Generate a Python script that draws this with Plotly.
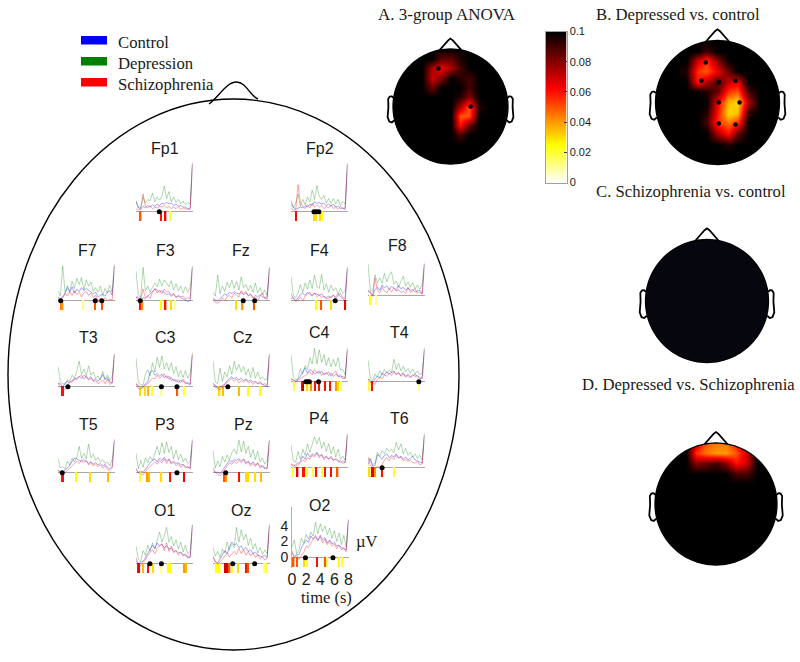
import math
import plotly.graph_objects as go

# ---------- data ----------
time_s = [0, .33, .67, 1, 1.33, 1.67, 2, 2.33, 2.67, 3, 3.33, 3.67, 4, 4.33, 4.67, 5, 5.33, 5.67, 6, 6.33, 6.67, 7, 7.33, 7.67, 8]
groups = ["Control", "Depression", "Schizophrenia"]

Fp1_c = [1.3,.4,.2,.6,.4,.7,.5,.8,.6,.9,.7,1.0,.9,1.1,.9,1.0,.7,.9,.6,.7,.5,.5,.3,.2,6.0]
Fp1_d = [1.2,.5,.4,1.8,1.0,1.5,1.3,2.3,1.2,1.8,1.4,1.9,3.2,1.6,2.5,1.2,1.8,1.1,1.5,.9,1.3,.8,1.1,.9,6.2]
Fp1_s = [.3,.1,.3,2.2,.6,.4,.7,.3,.5,.4,.6,.5,.7,.4,.6,.3,.5,.3,.6,.2,.4,.3,.2,.4,6.2]
Fp2_c = [1.3,.5,.2,.3,.5,.4,.7,.5,.9,.7,1.2,1.0,1.1,.9,1.0,.7,.9,.6,.9,.5,.6,.3,.4,.2,6.0]
Fp2_d = [.9,.4,1.0,2.2,.6,1.5,.8,1.8,1.2,2.7,1.5,3.3,1.9,1.5,2.0,1.0,1.6,1.0,1.6,.9,1.5,.7,1.2,.9,6.2]
Fp2_s = [.4,.1,.2,3.4,1.0,.6,.3,.8,.4,1.0,.5,.8,.5,.7,.3,.6,.4,.8,.3,.5,.2,.6,.3,.4,6.1]
F7_c = [.3,.2,.4,.8,1.8,1.0,1.7,.9,1.4,1.1,1.6,1.2,1.5,1.3,1.1,.8,1.0,.4,.6,.7,.5,1.0,1.2,.6,4.4]
F7_d = [1.2,.5,4.4,1.0,1.5,1.2,2.4,1.5,2.8,2.0,2.9,1.3,2.6,1.8,2.3,1.1,1.6,1.0,1.8,.6,1.5,.9,1.9,1.0,4.6]
F7_s = [.2,-.1,.3,.9,.5,1.1,.6,1.2,.7,1.0,.4,.9,1.1,.6,.9,.3,.6,-.3,.2,-.4,.3,-.1,.1,.0,4.5]
F3_c = [.3,.4,-.2,.3,.2,.5,.9,1.2,1.4,1.3,1.0,1.2,.9,.7,.8,.5,.7,.4,.5,.3,.1,-.1,-.2,-.1,4.2]
F3_d = [3.7,.7,.3,4.2,1.2,1.8,1.0,1.6,2.2,1.7,2.7,1.8,2.6,2.2,1.7,2.5,1.3,2.1,1.2,1.8,.9,1.7,1.0,1.6,4.4]
F3_s = [.5,-.2,.2,1.4,.3,.5,.2,1.0,1.5,.9,1.3,.8,1.4,1.0,1.1,.6,.9,.3,.6,.4,.5,.1,.3,.2,4.3]
Fz_c = [.3,.0,-.1,.2,.5,.8,.6,1.0,.8,1.1,.9,.8,1.0,.7,.9,.6,.7,.3,.6,.4,.7,.4,.3,.1,4.1]
Fz_d = [1.0,.5,3.2,.8,1.8,1.1,2.3,1.6,2.6,1.5,2.4,1.3,3.0,1.6,2.0,1.2,1.9,1.0,2.2,.9,1.6,.7,1.3,.6,4.3]
Fz_s = [.2,-.3,-.4,-.2,.3,-.1,.4,.6,.3,.9,.6,.4,1.2,.8,1.1,.5,.8,.2,.4,-.1,.5,.9,.2,.4,4.2]
F4_c = [.2,.3,-.1,.3,.7,.9,.6,1.0,.7,.5,.9,.7,.6,.8,.4,.3,.5,.3,.6,.4,.8,.4,.1,-.1,4.1]
F4_d = [3.0,.6,.3,.9,2.0,1.0,2.2,1.4,2.6,1.5,3.2,1.7,1.5,3.3,1.3,2.1,1.0,1.9,1.2,1.6,.8,1.5,.9,1.2,4.3]
F4_s = [.9,.2,-.2,.0,.4,-.1,.5,.7,1.0,.6,.9,.4,.7,.3,.5,.1,.3,.4,.6,.2,.6,.9,.3,.2,4.2]
F8_c = [.5,.3,.0,.7,1.0,.6,1.3,.9,1.2,.7,1.1,.9,.6,1.2,.8,1.0,.6,.9,.6,.7,.4,.5,.6,.2,4.0]
F8_d = [4.0,.5,.5,2.6,1.6,2.2,1.5,2.8,1.7,2.5,3.0,1.4,1.8,1.0,1.8,2.4,1.2,1.7,1.0,1.6,.8,1.3,.7,1.4,4.2]
F8_s = [.6,.4,-.2,2.2,.6,.3,1.0,.5,.3,.8,.4,.9,.5,.7,.3,.5,.2,1.0,.3,.5,.8,.2,.4,.1,3.9]
T3_c = [.3,.3,-.2,.4,.6,.4,.7,.9,1.1,1.2,1.0,1.4,1.1,.9,1.2,.7,.9,.6,1.0,1.5,.8,1.1,.5,.4,4.0]
T3_d = [2.5,.5,.3,.2,.8,.7,1.4,1.0,2.0,3.2,1.5,2.2,1.3,2.6,1.4,1.8,1.0,1.3,.8,1.9,.9,1.4,.7,1.2,4.3]
T3_s = [.4,-.1,-.3,-.5,.2,.6,.5,1.0,.8,1.2,1.4,.9,1.3,.8,1.0,.6,.7,.3,.5,.8,.3,.9,.2,.4,4.1]
C3_c = [.2,.0,-.1,-.2,.3,.5,1.8,2.0,1.4,1.6,1.3,1.5,1.1,1.3,.9,1.1,.7,.8,.5,.7,.6,.4,.3,.2,4.0]
C3_d = [3.6,.4,.2,.1,1.5,2.1,1.3,3.0,1.8,3.7,2.4,3.9,2.2,3.0,2.0,3.0,1.6,2.5,1.2,2.0,1.1,2.0,1.0,1.6,4.3]
C3_s = [.4,-.3,-.4,-.1,.1,.3,.6,1.0,.9,1.4,1.0,1.2,1.6,1.0,1.3,.7,.9,.5,.8,.4,.9,.3,.5,.2,4.2]
Cz_c = [.3,.1,-.3,.0,-.2,.3,.7,1.0,1.2,.9,1.1,.8,1.0,.7,.9,.6,.8,.5,.6,.3,.4,.2,.1,-.1,4.0]
Cz_d = [3.2,.5,.3,2.3,.6,1.8,1.2,2.6,1.5,3.2,2.0,2.8,1.8,2.5,1.4,2.2,1.1,2.4,1.0,1.8,.9,1.2,.8,.9,4.3]
Cz_s = [.4,-.2,-.3,-.5,.1,.2,.5,.7,1.0,.6,.9,.4,.7,.5,.8,.4,.6,.2,.5,.3,.6,.2,.3,.1,4.1]
C4_c = [.3,.1,.0,.2,.6,1.2,1.7,1.0,1.5,1.3,.9,1.1,1.0,1.3,.8,1.1,.7,1.0,.6,.9,.7,.5,.6,.3,4.0]
C4_d = [3.4,.5,.2,.3,1.6,.9,2.0,1.5,3.0,2.2,4.2,2.2,4.0,2.4,3.4,2.0,3.0,1.8,2.8,1.9,3.0,1.4,1.5,.8,4.3]
C4_s = [.2,.1,-.1,.1,.3,.4,.7,.9,1.2,.8,1.5,1.1,1.3,.7,1.0,.9,1.2,.6,1.0,1.3,.5,.8,.3,.4,4.1]
T4_c = [.2,.1,-.2,.3,.6,.4,1.0,.8,1.2,.9,1.1,1.3,.9,1.0,.7,1.1,.6,.9,.5,.8,.6,.7,.4,.3,4.0]
T4_d = [2.7,.4,.1,.9,.5,1.3,.8,1.5,1.0,1.4,1.1,2.8,1.5,2.3,1.3,1.9,1.2,1.6,1.0,1.5,.9,1.3,.8,1.0,4.3]
T4_s = [.3,-.2,-.3,-.4,.2,.5,.3,.8,.6,1.0,.7,1.2,.8,1.1,.6,.9,.5,.7,.4,.6,.9,.5,.3,.5,4.2]
T5_c = [.2,.0,-.1,.3,.5,.9,1.4,1.8,1.7,1.5,1.3,1.6,1.4,1.1,1.3,1.0,1.2,.9,1.1,.8,1.0,.6,.4,.7,4.0]
T5_d = [1.7,.5,.7,.4,1.4,.9,1.8,1.3,1.9,3.3,1.8,2.4,1.7,3.6,1.8,2.3,1.5,1.9,1.3,1.6,1.1,1.3,.8,1.6,4.3]
T5_s = [.3,-.2,-.4,-.1,.1,.4,.8,1.0,1.4,1.1,1.6,1.2,1.5,.9,1.3,.8,1.0,.7,.9,.5,.8,.3,.2,.5,4.1]
P3_c = [.3,-.1,.1,.0,.3,.8,1.2,1.5,1.7,1.3,1.8,1.5,1.9,1.4,1.7,1.2,1.4,1.1,1.2,.9,1.0,.7,.6,.5,4.0]
P3_d = [2.4,.4,1.5,.6,1.8,1.2,2.0,1.5,2.4,3.3,2.2,3.8,2.4,3.9,2.5,3.3,1.7,2.8,1.6,2.3,1.3,1.8,1.1,1.4,4.3]
P3_s = [.5,.0,-.2,-.4,.1,.4,.7,1.0,1.3,1.0,1.5,1.2,1.7,1.1,1.6,1.0,1.3,.8,1.1,.6,.9,.5,.7,.4,4.1]
Pz_c = [.2,-.1,.0,-.2,.2,.7,1.1,1.5,1.3,1.6,1.5,1.7,1.4,1.7,1.2,1.4,1.0,1.3,.9,1.1,.8,.7,.5,.4,4.0]
Pz_d = [2.8,.5,1.4,.7,2.0,1.3,2.2,1.6,2.5,3.0,2.3,4.1,2.6,4.0,2.4,3.3,1.9,2.9,1.6,2.7,1.3,1.8,1.0,1.5,4.2]
Pz_s = [.6,.0,-.3,-.5,-.1,.4,.8,1.2,1.0,1.4,1.1,1.5,1.2,1.6,1.0,1.3,.8,1.1,.7,1.2,.5,.9,.4,.6,4.1]
P4_c = [.3,.1,.3,.5,.7,1.4,1.0,1.8,1.3,1.7,1.5,1.9,1.4,1.6,1.2,1.4,1.0,1.2,.9,1.0,.7,.8,.5,.6,4.1]
P4_d = [2.8,.8,.6,2.0,1.0,2.3,1.5,3.0,1.9,2.9,3.9,3.0,3.8,2.4,3.2,2.0,3.0,1.7,2.6,1.3,2.3,1.0,1.4,.9,4.4]
P4_s = [.4,.2,.1,.3,.5,.9,.7,1.2,1.0,1.5,1.3,1.8,1.2,1.6,.9,1.3,1.0,1.4,.8,1.1,.9,.5,.8,.6,4.2]
T6_c = [.3,1.1,.1,.2,1.6,1.3,1.0,1.5,1.7,1.2,1.5,1.3,1.7,1.2,1.4,1.0,1.3,.9,1.1,1.4,.9,.8,.6,.5,4.1]
T6_d = [1.3,.8,.3,.5,1.9,1.4,2.1,1.7,2.4,2.0,2.3,1.8,3.2,2.2,3.0,1.7,2.4,1.5,1.9,1.3,1.7,1.1,1.5,.9,4.4]
T6_s = [1.2,.2,-.1,-.2,.1,-.1,.3,.9,1.2,.8,1.3,1.0,1.5,1.1,1.3,.8,1.0,.7,.9,.6,.5,.7,.3,.4,4.2]
O1_c = [.3,-.1,.1,.2,.7,1.2,1.7,2.3,1.9,2.6,2.2,2.4,2.0,2.2,1.8,1.9,1.5,1.6,1.3,1.4,1.1,.9,.8,.7,4.9]
O1_d = [2.2,.5,.2,1.6,1.0,2.3,1.5,2.6,1.8,3.0,4.0,2.7,3.5,4.6,2.7,3.4,2.2,3.0,1.8,2.7,1.4,2.3,1.2,1.5,5.0]
O1_s = [.7,-.2,-.3,.1,.4,1.0,1.3,1.7,1.2,1.9,2.2,2.5,1.6,2.6,1.5,2.2,1.3,1.6,1.0,1.4,.9,1.2,.6,.8,4.9]
Oz_c = [.7,.2,.0,.5,1.0,1.6,1.2,2.1,2.7,2.3,2.5,2.0,2.2,1.7,2.0,1.5,1.7,1.2,1.4,1.0,.9,.8,1.0,.7,4.8]
Oz_d = [2.0,.9,1.5,.7,1.8,1.3,2.7,1.7,2.4,2.0,4.6,2.7,4.3,3.0,3.7,2.3,3.2,1.8,2.5,1.3,2.0,1.1,1.7,1.2,5.0]
Oz_s = [.9,.1,-.2,.1,.5,.9,1.3,.8,1.2,1.5,1.1,1.9,1.2,1.7,1.0,1.5,.9,1.3,.7,1.1,.5,.8,.4,.6,4.9]
O2_c = [.5,.1,.3,.3,1.2,1.7,2.2,1.9,2.7,2.3,2.6,2.1,2.8,2.2,2.5,1.8,2.2,1.7,1.9,1.4,1.5,1.2,1.0,.9,4.7]
O2_d = [1.3,2.2,.4,1.0,2.4,1.8,2.9,2.3,3.2,2.7,4.5,3.0,4.3,3.3,4.0,2.9,3.7,2.4,3.4,2.0,3.1,1.6,2.8,1.3,4.9]
O2_s = [.8,-.1,.2,-.3,.2,.6,1.4,1.2,1.8,2.4,2.8,2.2,2.6,1.8,2.3,1.6,2.0,1.4,1.7,1.1,1.5,.9,1.2,.7,4.8]

# significance ticks: time (s), p value; black dots: time (s)
Fp1_t=[.66,3.5,4.2,4.9];                         Fp1_p=[.05,.06,.062,.02];                    Fp1_dots=[3.3]
Fp2_t=[.75,3.3,3.5,4.2,4.4];                     Fp2_p=[.062,.03,.03,.03,.02];                Fp2_dots=[3.25,3.6,3.95]
F7_t=[.47,.66,3.6,5.2,6.2];                      F7_p=[.045,.04,.012,.05,.05];                F7_dots=[.38,5.27,6.2]
F3_t=[.56,.94,3.6,4.2,5.0,5.5];                  F3_p=[.06,.04,.025,.06,.03,.01];             F3_dots=[.6]
Fz_t=[3.3,4.2,5.8];                              Fz_p=[.03,.04,.05];                          Fz_dots=[4.28,5.9]
F4_t=[3.6,4.3,5.65,7.7];                         F4_p=[.025,.05,.03,.065];                    F4_dots=[6.26]
F8_t=[.33,1.2];                                  F8_p=[.025,.01];                             F8_dots=[]
T3_t=[.6,.7];                                    T3_p=[.06,.06];                              T3_dots=[1.4]
C3_t=[.56,1.27,1.74,2.35,3.6,5.8,6.8];           C3_p=[.03,.03,.035,.02,.01,.05,.02];         C3_dots=[3.6,5.8]
Cz_t=[.94,1.4,3.68,4.95,6.75];                   Cz_p=[.03,.035,.035,.025,.025];              Cz_dots=[2.1]
C4_t=[.47,1.55,1.74,2.35,2.8,3.4,4.0,4.8,5.5,6.45,6.7,7.06]; C4_p=[.02,.06,.07,.03,.04,.06,.06,.06,.06,.04,.03,.015]; C4_dots=[2.1,2.35,2.6,3.9]
T4_t=[.23,.56,7.2];                              T4_p=[.02,.06,.01];                          T4_dots=[7.2]
T5_t=[.6,.7,2.6,4.55,7.15];                      T5_p=[.06,.06,.025,.03,.035];                T5_dots=[.6]
P3_t=[.56,1.65,1.9,3.6,4.85,6.8];                P3_p=[.02,.04,.035,.03,.06,.065];            P3_dots=[5.8]
Pz_t=[1.65,1.9,3.64,4.67,4.95,5.95,6.8];         Pz_p=[.05,.04,.06,.03,.03,.03,.035];         Pz_dots=[1.8]
P4_t=[.3,.94,1.7,1.9,2.26,3.1,3.6,4.4,4.85,5.65,6.6]; P4_p=[.02,.065,.06,.06,.02,.02,.06,.02,.06,.06,.05]; P4_dots=[]
T6_t=[.23,.6,.8,1.03,2.0,3.76];                  T6_p=[.03,.065,.065,.04,.06,.02];            T6_dots=[2.0]
O1_t=[.33,.47,1.03,1.74,2.4,3.6,4.56,4.8,6.8,7.06]; O1_p=[.06,.065,.035,.06,.03,.01,.025,.025,.04,.035]; O1_dots=[1.98,3.6]
Oz_t=[.47,.94,1.74,2.0,2.35,2.7,3.5,4.7,4.94,7.3,7.5]; Oz_p=[.025,.025,.07,.07,.05,.02,.03,.06,.05,.015,.02]; Oz_dots=[2.8,5.9]
O2_t=[.24,.7,1.76,2.14,3.57,4.76,5.0,6.67,7.14]; O2_p=[.05,.05,.03,.02,.06,.05,.02,.025,.02]; O2_dots=[1.9,5.8]

# topographic p-maps (rows top to bottom, front of head first)
grid_pos = [-1, -.83, -.67, -.5, -.33, -.17, 0, .17, .33, .5, .67, .83, 1]
map_A = [
 [.1,.1,.1,.1,.1,.1,.1,.1,.1,.1,.1,.1,.1],
 [.1,.1,.1,.1,.1,.085,.085,.095,.1,.1,.1,.1,.1],
 [.1,.1,.1,.1,.075,.065,.075,.09,.1,.1,.1,.1,.1],
 [.1,.1,.1,.1,.07,.08,.1,.095,.09,.1,.1,.1,.1],
 [.1,.1,.1,.1,.085,.1,.1,.1,.09,.1,.1,.1,.1],
 [.1,.1,.1,.1,.1,.1,.1,.095,.08,.1,.1,.1,.1],
 [.1,.1,.1,.1,.1,.1,.1,.075,.05,.095,.1,.1,.1],
 [.1,.1,.1,.1,.1,.1,.1,.05,.05,.1,.1,.1,.1],
 [.1,.1,.1,.1,.1,.1,.1,.06,.085,.1,.1,.1,.1],
 [.1,.1,.1,.1,.1,.1,.1,.09,.1,.1,.1,.1,.1],
 [.1,.1,.1,.1,.1,.1,.1,.1,.1,.1,.1,.1,.1],
 [.1,.1,.1,.1,.1,.1,.1,.1,.1,.1,.1,.1,.1],
 [.1,.1,.1,.1,.1,.1,.1,.1,.1,.1,.1,.1,.1]]
map_B = [
 [.1,.1,.1,.1,.1,.1,.1,.1,.1,.1,.1,.1,.1],
 [.1,.1,.1,.1,.1,.09,.1,.1,.1,.1,.1,.1,.1],
 [.1,.1,.1,.1,.07,.055,.08,.1,.1,.1,.1,.1,.1],
 [.1,.1,.1,.095,.055,.05,.065,.085,.1,.1,.1,.1,.1],
 [.1,.1,.1,.1,.06,.075,.09,.07,.065,.1,.1,.1,.1],
 [.1,.1,.1,.1,.1,.095,.085,.055,.05,.09,.1,.1,.1],
 [.1,.1,.1,.1,.1,.1,.065,.035,.03,.075,.1,.1,.1],
 [.1,.1,.1,.1,.1,.095,.06,.03,.035,.095,.1,.1,.1],
 [.1,.1,.1,.1,.1,.09,.055,.045,.055,.1,.1,.1,.1],
 [.1,.1,.1,.1,.1,.1,.075,.06,.085,.1,.1,.1,.1],
 [.1,.1,.1,.1,.1,.1,.1,.095,.1,.1,.1,.1,.1],
 [.1,.1,.1,.1,.1,.1,.1,.1,.1,.1,.1,.1,.1],
 [.1,.1,.1,.1,.1,.1,.1,.1,.1,.1,.1,.1,.1]]
map_C_pos = [-1, 1]
map_C = [[.1, .1], [.1, .1]]
map_D = [
 [.1,.1,.1,.1,.07,.05,.045,.045,.06,.09,.1,.1,.1],
 [.1,.1,.1,.1,.055,.045,.04,.04,.05,.07,.1,.1,.1],
 [.1,.1,.1,.1,.08,.085,.09,.08,.06,.07,.1,.1,.1],
 [.1,.1,.1,.1,.1,.1,.1,.1,.09,.09,.1,.1,.1],
 [.1,.1,.1,.1,.1,.1,.1,.1,.1,.1,.1,.1,.1],
 [.1,.1,.1,.1,.1,.1,.1,.1,.1,.1,.1,.1,.1],
 [.1,.1,.1,.1,.1,.1,.1,.1,.1,.1,.1,.1,.1],
 [.1,.1,.1,.1,.1,.1,.1,.1,.1,.1,.1,.1,.1],
 [.1,.1,.1,.1,.1,.1,.1,.1,.1,.1,.1,.1,.1],
 [.1,.1,.1,.1,.1,.1,.1,.1,.1,.1,.1,.1,.1],
 [.1,.1,.1,.1,.1,.1,.1,.1,.1,.1,.1,.1,.1],
 [.1,.1,.1,.1,.1,.1,.1,.1,.1,.1,.1,.1,.1],
 [.1,.1,.1,.1,.1,.1,.1,.1,.1,.1,.1,.1,.1]]
A_dot_x = [-.21, .35]
A_dot_y = [.66, 0]
B_dot_x = [-.19, -.26, .02, .29, .02, .355, .02, .29]
B_dot_y = [.645, .35, .33, .35, 0, 0, -.34, -.355]
cbar_levels = [0, .0125, .025, .0375, .05, .0625, .075, .0875, .1]
cbar_ticks = [0, .02, .04, .06, .08, .1]
cbar_labels = ["0", "0.02", "0.04", "0.06", "0.08", "0.1"]
ear_x = [.994, 1.02, 1.036, 1.06, 1.084, 1.08, 1.094, 1.064, 1.02, .978]
ear_y = [.15, .175, .176, .17, .13, -.011, -.186, -.263, -.277, -.24]
nose_x = [-.19, -.04, 0, .04, .19]
nose_y = [.98, 1.15, 1.18, 1.15, .98]

# ---------- layout (pixels) ----------
W, H = 800, 662
def px(x): return x / W
def py(y): return 1 - y / H

SERIF = "Liberation Serif"
SANS = "Liberation Sans"
INK = "#1a1a1a"
hot_r = [[0, "#ffffff"], [.25, "#ffff00"], [.625, "#ff0000"], [1, "#000000"]]
LINE = {"c": "rgba(0,0,255,0.40)", "d": "rgba(0,128,0,0.34)", "s": "rgba(255,0,0,0.40)"}

panels = [
 ("Fp1",136,211,165,148,Fp1_c,Fp1_d,Fp1_s,Fp1_t,Fp1_p,Fp1_dots),
 ("Fp2",291,211,320,148,Fp2_c,Fp2_d,Fp2_s,Fp2_t,Fp2_p,Fp2_dots),
 ("F7",58,300,87,250,F7_c,F7_d,F7_s,F7_t,F7_p,F7_dots),
 ("F3",136,300,165,250,F3_c,F3_d,F3_s,F3_t,F3_p,F3_dots),
 ("Fz",213,300,241,250,Fz_c,Fz_d,Fz_s,Fz_t,Fz_p,Fz_dots),
 ("F4",291,300,319,250,F4_c,F4_d,F4_s,F4_t,F4_p,F4_dots),
 ("F8",368,295,397,245,F8_c,F8_d,F8_s,F8_t,F8_p,F8_dots),
 ("T3",58,386,88,337,T3_c,T3_d,T3_s,T3_t,T3_p,T3_dots),
 ("C3",136,386,165,337,C3_c,C3_d,C3_s,C3_t,C3_p,C3_dots),
 ("Cz",213,386,243,337,Cz_c,Cz_d,Cz_s,Cz_t,Cz_p,Cz_dots),
 ("C4",291,381,319,332,C4_c,C4_d,C4_s,C4_t,C4_p,C4_dots),
 ("T4",368,381,399,332,T4_c,T4_d,T4_s,T4_t,T4_p,T4_dots),
 ("T5",58,472,88,424,T5_c,T5_d,T5_s,T5_t,T5_p,T5_dots),
 ("P3",136,472,165,424,P3_c,P3_d,P3_s,P3_t,P3_p,P3_dots),
 ("Pz",213,472,243,424,Pz_c,Pz_d,Pz_s,Pz_t,Pz_p,Pz_dots),
 ("P4",291,467,319,418,P4_c,P4_d,P4_s,P4_t,P4_p,P4_dots),
 ("T6",368,467,399,418,T6_c,T6_d,T6_s,T6_t,T6_p,T6_dots),
 ("O1",136,563,164,510,O1_c,O1_d,O1_s,O1_t,O1_p,O1_dots),
 ("Oz",213,563,241,510,Oz_c,Oz_d,Oz_s,Oz_t,Oz_p,Oz_dots),
 ("O2",292,557,319,505,O2_c,O2_d,O2_s,O2_t,O2_p,O2_dots),
]
PANEL_W = 56.5
UP, DOWN = 50, 11
UV_PX = 7.75
BAR_DEPTH = [-1.3]

fig = go.Figure()
layout_axes = {}
annotations = []
shapes = []
axis_id = 0

def next_axes(x0, x1, y0, y1, xopts, yopts):
    global axis_id
    axis_id += 1
    s = "" if axis_id == 1 else str(axis_id)
    xo = dict(domain=[px(x0), px(x1)], anchor=f"y{s}", fixedrange=True, showgrid=False, zeroline=False,
              showticklabels=False, ticks="")
    yo = dict(domain=[py(y1), py(y0)], anchor=f"x{s}", fixedrange=True, showgrid=False, zeroline=False,
              showticklabels=False, ticks="")
    xo.update(xopts); yo.update(yopts)
    layout_axes[f"xaxis{s}"] = xo
    layout_axes[f"yaxis{s}"] = yo
    return f"x{s}", f"y{s}"

for name, left, base, lx, ly, c, d, s_, t, p, dots in panels:
    is_o2 = name == "O2"
    xopts = dict(range=[0, 8])
    yopts = dict(range=[-DOWN / UV_PX, UP / UV_PX], zeroline=True, zerolinecolor="#a8a8a8", zerolinewidth=1)
    if is_o2:
        xopts.update(showticklabels=True, tickvals=[0, 2, 4, 6, 8], tickfont=dict(family=SANS, size=16, color=INK), ticklen=0)
        yopts.update(showticklabels=True, tickvals=[0, 2, 4], tickfont=dict(family=SANS, size=14, color=INK),
                     showline=True, linecolor="#b0b0b0", linewidth=1)
    xa, ya = next_axes(left, left + PANEL_W, base - UP, base + DOWN, xopts, yopts)
    fig.add_trace(go.Bar(x=t, y=BAR_DEPTH * len(t), width=.2, xaxis=xa, yaxis=ya, showlegend=False, hoverinfo="skip",
                         marker=dict(color=p, colorscale=hot_r, cmin=0, cmax=.1, line=dict(width=0))))
    for series, key, g in ((d, "d", groups[1]), (c, "c", groups[0]), (s_, "s", groups[2])):
        fig.add_trace(go.Scatter(x=time_s, y=series, mode="lines", name=g, xaxis=xa, yaxis=ya, showlegend=False,
                                 hoverinfo="skip", line=dict(color=LINE[key], width=.9)))
    if dots:
        fig.add_trace(go.Scatter(x=dots, y=[-.1] * len(dots), mode="markers", xaxis=xa, yaxis=ya, showlegend=False,
                                 hoverinfo="skip", cliponaxis=False, marker=dict(color="black", size=5)))
    annotations.append(dict(text=name, xref="paper", yref="paper", x=px(lx), y=py(ly), showarrow=False,
                            xanchor="center", yanchor="middle", font=dict(family=SANS, size=16, color=INK)))

# topographic maps
def add_head(cx, cy, r, z, pos, dotx=None, doty=None, scale=hot_r):
    xa, ya = next_axes(cx - r, cx + r, cy - r, cy + r, dict(range=[-1, 1]), dict(range=[-1, 1]))
    fig.add_trace(go.Heatmap(x=pos, y=pos, z=z[::-1], zmin=0, zmax=.1, zsmooth="best", colorscale=scale,
                             xaxis=xa, yaxis=ya, hoverinfo="skip", showscale=False))
    if dotx:
        fig.add_trace(go.Scatter(x=dotx, y=doty, mode="markers", xaxis=xa, yaxis=ya, showlegend=False, hoverinfo="skip",
                                 marker=dict(color="black", size=4.5)))
    pts = [(cx + r * math.cos(i * math.pi / 60), cy + r * math.sin(i * math.pi / 60)) for i in range(120)]
    circ = "M" + "L".join(f"{px(a):.5f},{py(b):.5f}" for a, b in pts) + "Z"
    R = r + 1
    sq = f"M{px(cx-R):.5f},{py(cy-R):.5f}L{px(cx+R):.5f},{py(cy-R):.5f}L{px(cx+R):.5f},{py(cy+R):.5f}L{px(cx-R):.5f},{py(cy+R):.5f}Z"
    shapes.append(dict(type="path", xref="paper", yref="paper", path=sq + circ, fillcolor="white",
                       fillrule="evenodd", line=dict(width=0)))
    shapes.append(dict(type="path", xref="paper", yref="paper", path=circ, line=dict(color="black", width=1.3)))
    for sign in (1, -1):
        ear = "M" + "L".join(f"{px(cx + sign * a * r):.5f},{py(cy - b * r):.5f}" for a, b in zip(ear_x, ear_y))
        shapes.append(dict(type="path", xref="paper", yref="paper", path=ear, line=dict(color="black", width=1.8)))
    nose = "M" + "L".join(f"{px(cx + a * r):.5f},{py(cy - b * r):.5f}" for a, b in zip(nose_x, nose_y))
    shapes.append(dict(type="path", xref="paper", yref="paper", path=nose, line=dict(color="black", width=1.8)))

add_head(450.5, 106.5, 57.5, map_A, grid_pos, A_dot_x, A_dot_y)
add_head(717.5, 102.5, 62, map_B, grid_pos, B_dot_x, B_dot_y)
add_head(707, 301, 61.5, map_C, map_C_pos, scale=[[0, "#06060e"], [1, "#06060e"]])
add_head(716, 504, 61, map_D, grid_pos)

# colour scale drawn as its own small axes, so it reserves no page margin
cb_x, cb_y = next_axes(545.5, 566.5, 31.5, 182.5,
                       dict(range=[0, 1], showline=True, mirror=True, linecolor="#a0a0a0", linewidth=1),
                       dict(range=[0, .1], side="right", tickmode="array", tickvals=cbar_ticks, ticktext=cbar_labels,
                            showticklabels=True, ticks="inside", ticklen=3, tickcolor="#333",
                            tickfont=dict(family=SANS, size=11, color=INK),
                            showline=True, mirror=True, linecolor="#a0a0a0", linewidth=1))
fig.add_trace(go.Heatmap(x=[0, 1], y=cbar_levels, z=[[v, v] for v in cbar_levels], zmin=0, zmax=.1, zsmooth="best",
                         colorscale=hot_r, xaxis=cb_x, yaxis=cb_y, hoverinfo="skip", showscale=False))

# big schematic head
shapes.append(dict(type="circle", xref="paper", yref="paper", x0=px(8), x1=px(459), y0=py(650), y1=py(99),
                   line=dict(color="black", width=1.4)))
def P(a, b): return f"{px(a):.5f},{py(b):.5f}"
shapes.append(dict(type="path", xref="paper", yref="paper",
                   path=f"M{P(209,104)}C{P(218,98)} {P(226,82)} {P(236.5,82)}C{P(246,82)} {P(250,96)} {P(258,99)}",
                   line=dict(color="black", width=1.4)))

def text(t, x, y, size, family=SERIF, xanchor="left"):
    annotations.append(dict(text=t, xref="paper", yref="paper", x=px(x), y=py(y), showarrow=False, xanchor=xanchor,
                            yanchor="middle", font=dict(family=family, size=size, color=INK)))

text("A. 3-group ANOVA", 376, 14, 17)
text("B. Depressed vs. control", 594, 14, 16.7)
text("C. Schizophrenia vs. control", 594, 191, 16.7)
text("D. Depressed vs. Schizophrenia", 580, 384, 16.7)
text("µV", 354, 541, 16.5)
text("time (s)", 326, 597, 16.5, xanchor="center")

# key for the three groups
key_rows = [(36, 44.5, "#0000ff", 42.5), (57, 65.5, "#008000", 64), (78, 86.5, "#ff0000", 84)]
for (y0, y1, col, ty), g in zip(key_rows, groups):
    shapes.append(dict(type="rect", xref="paper", yref="paper", x0=px(81), x1=px(107), y0=py(y1), y1=py(y0),
                       fillcolor=col, line=dict(width=0)))
    text(g, 116, ty, 16.7)

fig.update_layout(
    width=W, height=H, autosize=False, margin=dict(l=0, r=0, t=0, b=0, autoexpand=False),
    paper_bgcolor="white", plot_bgcolor="rgba(0,0,0,0)", barmode="overlay", showlegend=False,
    annotations=annotations, shapes=shapes, **layout_axes)

fig.write_html("out.html", config=dict(displayModeBar=False),
               post_script="document.body.style.margin='0';document.body.style.overflow='hidden';")
